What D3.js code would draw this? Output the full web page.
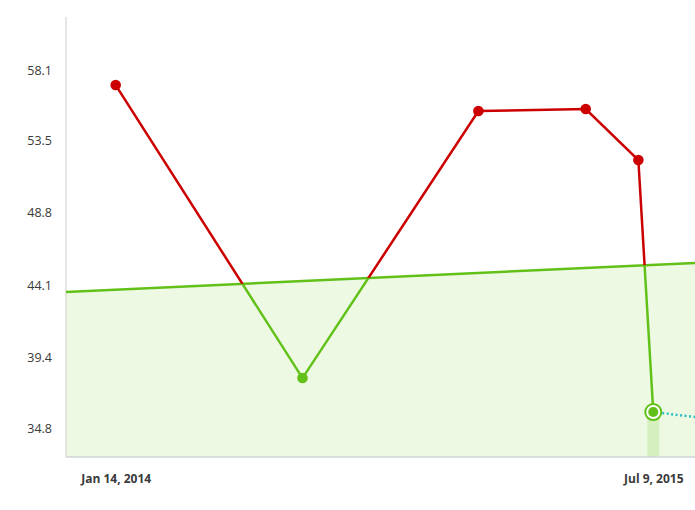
<!DOCTYPE html>
<html><head><meta charset="utf-8">
<script src="https://cdn.jsdelivr.net/npm/d3@7"></script>
<style>
html,body{margin:0;padding:0;background:#fff;overflow:hidden;}
svg{display:block;font-family:"Open Sans",sans-serif;}
</style></head>
<body>
<svg id="chart" width="695" height="510"></svg>
<script>
// data
const dates = ["2014-01-14","2014-07-21","2015-01-14","2015-05-02","2015-06-24","2015-07-09"];
const values = [57.12, 38.05, 55.43, 55.56, 52.24, 35.84];
const forecastDates = ["2015-07-09","2015-09-08"];
const forecastValues = [35.84, 35.37];
const thresholdDates = ["2013-11-25","2015-08-20"];
const thresholdValues = [43.65, 45.54];
const yTickValues = [34.8, 39.4, 44.1, 48.8, 53.5, 58.1];
const yTickLabels = ["34.8","39.4","44.1","48.8","53.5","58.1"];
const xTickDates = ["2014-01-14","2015-07-09"];
const xTickLabels = ["Jan 14, 2014","Jul 9, 2015"];

const parse = d3.timeParse("%Y-%m-%d");
const svg = d3.select("#chart");
const pLeft = 66, pRight = 695, pTop = 17, pBottom = 457;

const x = d3.scaleTime().domain([parse(thresholdDates[0]), parse(thresholdDates[1])]).range([pLeft, pRight]);
const y = d3.scaleLinear().domain([34.8, 58.1]).range([428, 70]);

const pts = dates.map((d,i)=>({x:x(parse(d)), y:y(values[i]), v:values[i], d:parse(d)}));
const thr = thresholdDates.map((d,i)=>({x:x(parse(d)), y:y(thresholdValues[i])}));
const thrAt = px => thr[0].y + (thr[1].y-thr[0].y)*(px-thr[0].x)/(thr[1].x-thr[0].x);

const green = "#62c118", red = "#cc0000";

const defs = svg.append("defs");
const ext = 200;
defs.append("clipPath").attr("id","above").append("path")
  .attr("d", `M${pLeft-ext},${thrAt(pLeft-ext)} L${pRight+ext},${thrAt(pRight+ext)} L${pRight+ext},-100 L${pLeft-ext},-100 Z`);
defs.append("clipPath").attr("id","below").append("path")
  .attr("d", `M${pLeft-ext},${thrAt(pLeft-ext)} L${pRight+ext},${thrAt(pRight+ext)} L${pRight+ext},${pBottom+100} L${pLeft-ext},${pBottom+100} Z`);

// threshold fill area
const area = d3.area().x(d=>d.x).y0(pBottom).y1(d=>d.y);
svg.append("path").datum(thr).attr("d", area).attr("fill", "#eef9e4");

// highlight bar under last point
const last = pts[pts.length-1];
svg.append("rect").attr("x", last.x-6).attr("y", last.y).attr("width", 12).attr("height", pBottom-last.y)
  .attr("fill", "#d5efbf");

// axes lines
svg.append("line").attr("x1", pLeft).attr("x2", pLeft).attr("y1", pTop).attr("y2", pBottom)
  .attr("stroke", "#d6d6d6").attr("stroke-width", 1.2);
svg.append("line").attr("x1", pLeft).attr("x2", pRight+10).attr("y1", pBottom).attr("y2", pBottom)
  .attr("stroke", "#cfd3d8").attr("stroke-width", 1.5);

// threshold line
const line = d3.line().x(d=>d.x).y(d=>d.y);
svg.append("path").datum(thr).attr("d", line).attr("fill","none").attr("stroke", green).attr("stroke-width", 2.5);

// forecast dotted
const fpts = forecastDates.map((d,i)=>({x:x(parse(d)), y:y(forecastValues[i])}));
svg.append("path").datum(fpts).attr("d", line).attr("fill","none").attr("stroke", "#2bbfc4")
  .attr("stroke-width", 2.5).attr("stroke-dasharray", "2,2.5");

// data line red/green
const g = svg.append("g");
g.append("path").datum(pts).attr("d", line).attr("fill","none").attr("stroke", red).attr("stroke-width", 2.5)
  .attr("clip-path","url(#above)");
g.append("path").datum(pts).attr("d", line).attr("fill","none").attr("stroke", green).attr("stroke-width", 2.5)
  .attr("clip-path","url(#below)");

// points
pts.forEach((p,i)=>{
  const above = p.y < thrAt(p.x);
  const c = above ? red : green;
  if (i === pts.length-1) {
    svg.append("circle").attr("cx", p.x).attr("cy", p.y).attr("r", 8).attr("fill", "#fff")
      .attr("stroke", c).attr("stroke-width", 2);
    svg.append("circle").attr("cx", p.x).attr("cy", p.y).attr("r", 5).attr("fill", c);
  } else {
    svg.append("circle").attr("cx", p.x).attr("cy", p.y).attr("r", 5.3).attr("fill", c);
  }
});

// y axis labels
const yAxis = d3.axisLeft(y).tickValues(yTickValues).tickSize(0).tickPadding(0)
  .tickFormat((d,i)=>yTickLabels[i]);
const ya = svg.append("g").attr("transform", `translate(52,0)`).call(yAxis);
ya.select(".domain").remove();
ya.selectAll("text").attr("font-size", 12.5).attr("fill", "#3a3a3a").attr("font-family", "Open Sans, sans-serif");

// x axis labels
const xAxis = d3.axisBottom(x).tickValues(xTickDates.map(parse)).tickSize(0).tickPadding(0)
  .tickFormat((d,i)=>xTickLabels[i]);
const xa = svg.append("g").attr("transform", `translate(0,474)`).call(xAxis);
xa.select(".domain").remove();
xa.selectAll("text").attr("font-size", 12).attr("font-weight", "bold").attr("fill", "#3a3a3a")
  .attr("font-family", "Open Sans, sans-serif");
</script>
</body></html>
